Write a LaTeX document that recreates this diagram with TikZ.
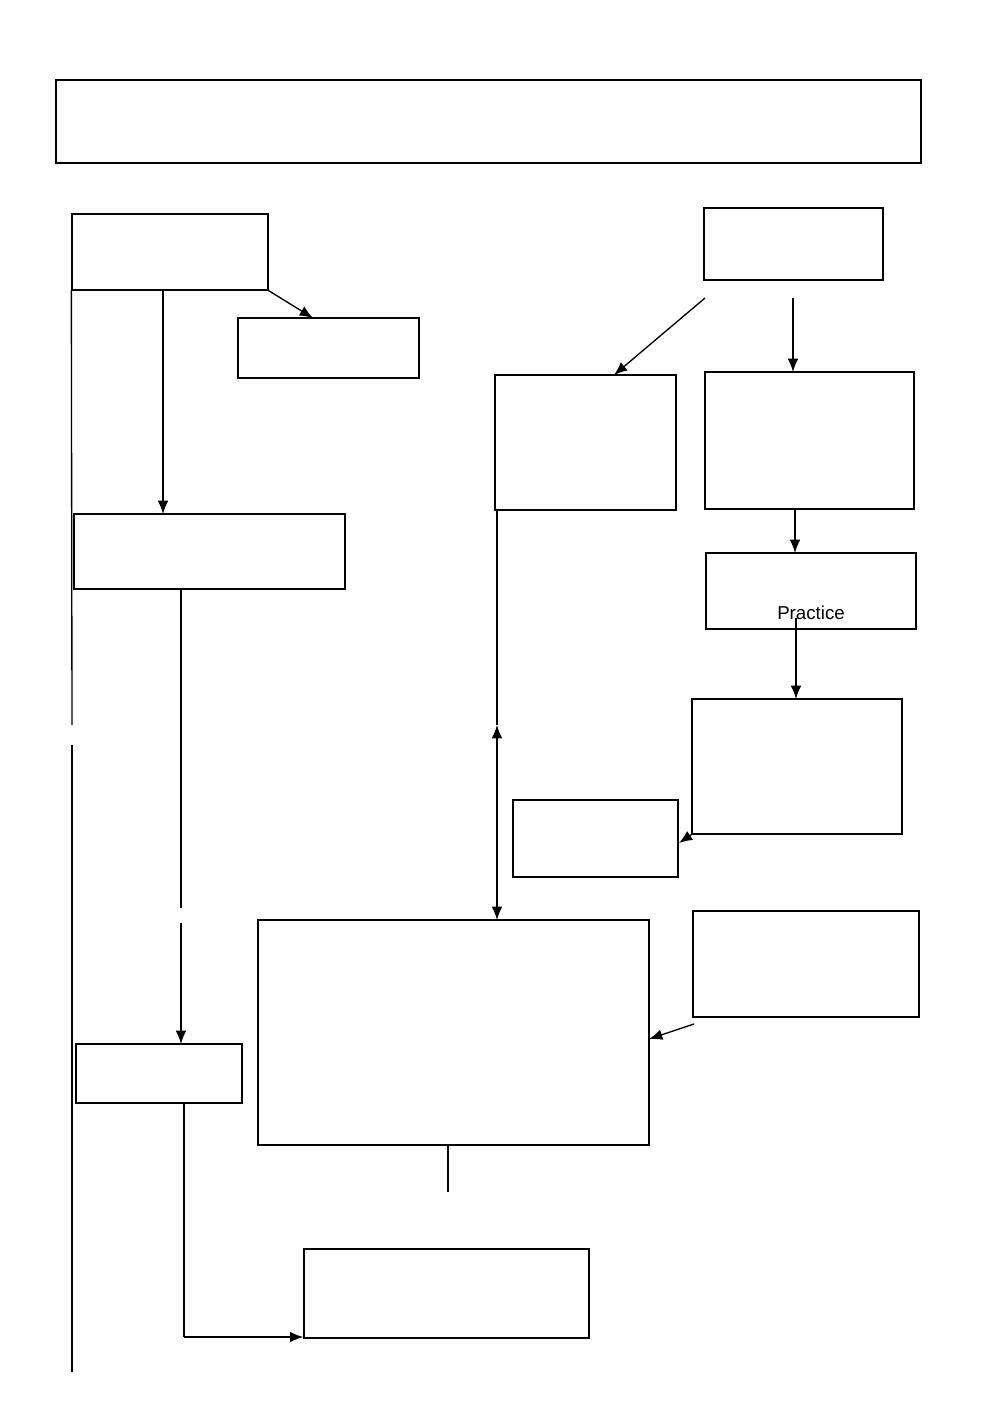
\documentclass[tikz,border=0pt]{standalone}
\usepackage{fontspec}
\newfontfamily\arialfont{Liberation Sans}
\usetikzlibrary{arrows.meta,fit}
\begin{document}
\begin{tikzpicture}[x=0.75pt,y=-0.75pt,
  box/.style={draw, line width=1pt, inner sep=0pt, fill=none},
  conn/.style={line width=1pt},
  arr/.style={conn, -{Latex[length=10pt,width=8pt]}}]
\useasboundingbox (0,0) rectangle (992,1403);
% corner coordinates
\coordinate (t1) at (56,80);   \coordinate (t2) at (921,163);
\coordinate (a1) at (72,214);  \coordinate (a2) at (268,290);
\coordinate (b1) at (238,318); \coordinate (b2) at (419,378);
\coordinate (c1) at (74,514);  \coordinate (c2) at (345,589);
\coordinate (d1) at (76,1044); \coordinate (d2) at (242,1103);
\coordinate (e1) at (258,920); \coordinate (e2) at (649,1145);
\coordinate (f1) at (304,1249);\coordinate (f2) at (589,1338);
\coordinate (g1) at (704,208); \coordinate (g2) at (883,280);
\coordinate (h1) at (495,375); \coordinate (h2) at (676,510);
\coordinate (i1) at (705,372); \coordinate (i2) at (914,509);
\coordinate (j1) at (706,553); \coordinate (j2) at (916,629);
\coordinate (k1) at (692,699); \coordinate (k2) at (902,834);
\coordinate (l1) at (513,800); \coordinate (l2) at (678,877);
\coordinate (m1) at (693,911); \coordinate (m2) at (919,1017);
% boxes
\node[box, fit=(t1)(t2)] (T) {};
\node[box, fit=(a1)(a2)] (A) {};
\node[box, fit=(b1)(b2)] (B) {};
\node[box, fit=(c1)(c2)] (C) {};
\node[box, fit=(d1)(d2)] (D) {};
\node[box, fit=(e1)(e2)] (E) {};
\node[box, fit=(f1)(f2)] (F) {};
\node[box, fit=(g1)(g2)] (G) {};
\node[box, fit=(h1)(h2)] (H) {};
\node[box, fit=(i1)(i2)] (I) {};
\node[box, fit=(j1)(j2)] (J) {};
\node[box, fit=(k1)(k2)] (K) {};
\node[box, fit=(l1)(l2)] (L) {};
\node[box, fit=(m1)(m2)] (M) {};
\node[font=\arialfont\fontsize{14pt}{16pt}\selectfont] (P) at (811,613) {Practice};
% free ends
\coordinate (lg1) at (72,725); \coordinate (lg2) at (72,745);
\coordinate (lend) at (72,1372);
\coordinate (cg1) at (181,908); \coordinate (cg2) at (181,923);
\coordinate (dturn) at (184,1337);
\coordinate (eend) at (448,1192);
\coordinate (gl) at (705,298); \coordinate (gr) at (793,298);
\coordinate (hmid) at (497,725);
\coordinate (ps) at (796,618);
\coordinate (ms) at (694,1024);
% connectors
\draw[conn] (A.south west) -- (lg1);
\draw[conn] (lg2) -- (lend);
\draw[arr] (A.south east) -- (313,318);
\draw[arr] (163,290) -- (163,514);
\draw[conn] (181,589) -- (cg1);
\draw[arr] (cg2) -- (181,1044);
\draw[conn] (184,1103) -- (dturn);
\draw[arr] (dturn) -- (F.west |- dturn);
\draw[conn] (448,1145) -- (eend);
\draw[arr] (gl) -- (614,375);
\draw[arr] (gr) -- (793,372);
\draw[arr] (795,509) -- (795,553);
\draw[arr] (ps) -- (796,699);
\draw[arr] (K.south west) -- (679,843);
\draw[conn] (497,510) -- (hmid);
\draw[conn, {Latex[length=10pt,width=8pt]}-{Latex[length=10pt,width=8pt]}] (hmid) -- (497,920);
\draw[arr] (ms) -- (649,1039);
\end{tikzpicture}
\end{document}
